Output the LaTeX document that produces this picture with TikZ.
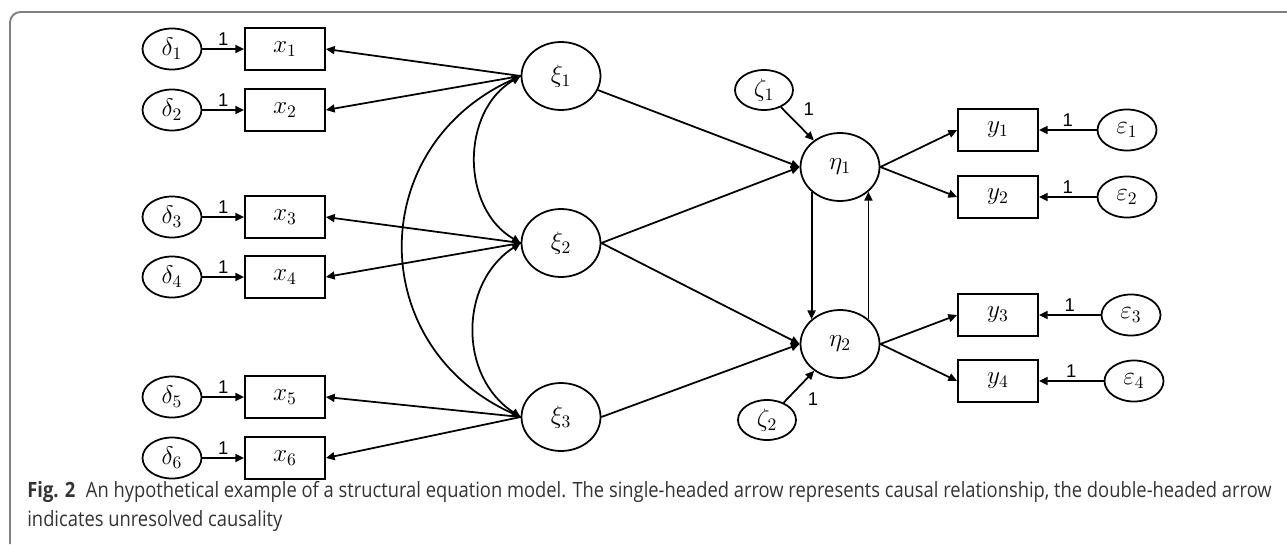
\documentclass[tikz,border=0pt]{standalone}
\usepackage{fontspec}
\usepackage{tikz}
\usetikzlibrary{arrows.meta,positioning,shapes.geometric}
\newfontfamily\onefont{Liberation Sans}
\newfontfamily\capfont[FakeStretch=0.87]{Open Sans}

\begin{document}
\begin{tikzpicture}[
  x=0.02cm, y=-0.02cm,
  obs/.style={draw, line width=1pt, minimum width=1.6cm, minimum height=0.84cm, inner sep=0pt, font=\Large},
  err/.style={draw, ellipse, line width=1pt, minimum width=1.18cm, minimum height=0.82cm, inner sep=0pt, font=\Large},
  lat/.style={draw, ellipse, line width=1pt, minimum width=1.58cm, minimum height=1.36cm, inner sep=0pt, font=\Large},
  arrow/.style={-{Triangle[length=5pt,width=4.5pt]}, line width=1pt},
  cov/.style={{Triangle[length=5pt,width=4.5pt]}-{Triangle[length=5pt,width=4.5pt]}, line width=1pt},
  one/.style={font=\onefont\fontsize{10.5}{12}\selectfont, inner sep=1.5pt}
]
\useasboundingbox (0,0) rectangle (1287,544);
% frame
\draw[gray, line width=1.1pt, rounded corners=6pt] (10,544) |- (1287,12);

% delta errors
\node[err] (d1) at (172,49)  {$\delta_1$};
\node[err] (d2) at (172,110) {$\delta_2$};
\node[err] (d3) at (172,217) {$\delta_3$};
\node[err] (d4) at (172,277) {$\delta_4$};
\node[err] (d5) at (172,397) {$\delta_5$};
\node[err] (d6) at (172,458) {$\delta_6$};
% x indicators
\node[obs] (x1) at (285,49)  {$x_1$};
\node[obs] (x2) at (285,110) {$x_2$};
\node[obs] (x3) at (285,217) {$x_3$};
\node[obs] (x4) at (285,277) {$x_4$};
\node[obs] (x5) at (285,397) {$x_5$};
\node[obs] (x6) at (285,458) {$x_6$};
% exogenous
\node[lat] (xi1) at (561,76)  {$\xi_1$};
\node[lat] (xi2) at (561,243) {$\xi_2$};
\node[lat] (xi3) at (561,417) {$\xi_3$};
% endogenous
\node[lat] (eta1) at (840,167) {$\eta_1$};
\node[lat] (eta2) at (840,344) {$\eta_2$};
\node[err, minimum width=1.16cm, minimum height=0.8cm] (z1) at (764,90)  {$\zeta_1$};
\node[err, minimum width=1.16cm, minimum height=0.8cm] (z2) at (767,420) {$\zeta_2$};
% y indicators
\node[obs] (y1) at (998,130) {$y_1$};
\node[obs] (y2) at (998,197) {$y_2$};
\node[obs] (y3) at (998,315) {$y_3$};
\node[obs] (y4) at (998,381) {$y_4$};
% epsilon errors
\node[err] (e1) at (1127,130) {$\varepsilon_1$};
\node[err] (e2) at (1127,197) {$\varepsilon_2$};
\node[err] (e3) at (1131,315) {$\varepsilon_3$};
\node[err] (e4) at (1134,381) {$\varepsilon_4$};

\draw[arrow] (d1) -- node[above,one]{1} (x1);
\draw[arrow] (d2) -- node[above,one]{1} (x2);
\draw[arrow] (d3) -- node[above,one]{1} (x3);
\draw[arrow] (d4) -- node[above,one]{1} (x4);
\draw[arrow] (d5) -- node[above,one]{1} (x5);
\draw[arrow] (d6) -- node[above,one]{1} (x6);

\draw[arrow] (xi1.west) -- (x1.east);
\draw[arrow] (xi1.west) -- (x2.east);
\draw[arrow] (xi2.west) -- (x3.east);
\draw[arrow] (xi2.west) -- (x4.east);
\draw[arrow] (xi3.west) -- (x5.east);
\draw[arrow] (xi3.west) -- (x6.east);

\draw[cov] (xi1.west) .. controls +(-60,35) and +(-60,-35) .. (xi2.west);
\draw[cov] (xi2.west) .. controls +(-62,40) and +(-62,-40) .. (xi3.west);
\draw[cov] (xi1.west) .. controls +(-156,70) and +(-156,-70) .. (xi3.west);

\draw[arrow] (xi1) -- (eta1.west);
\draw[arrow] (xi2.east) -- (eta1.west);
\draw[arrow] (xi2.east) -- (eta2.west);
\draw[arrow] (xi3.east) -- (eta2.west);

\draw[arrow] (z1) -- node[pos=0.05,right=10pt,one]{1} (eta1);
\draw[arrow] (z2) -- node[pos=0.1,right=10pt,one]{1} (eta2);
\draw[arrow, line width=1.1pt] (eta1.221) -- (eta2.139);
\draw[arrow, line width=1.1pt] (eta2.41) -- (eta1.319);

\draw[arrow] (eta1.east) -- (y1.west);
\draw[arrow] (eta1.east) -- (y2.west);
\draw[arrow] (eta2.east) -- (y3.west);
\draw[arrow] (eta2.east) -- (y4.west);

\draw[arrow] (e1) -- node[above,one]{1} (y1);
\draw[arrow] (e2) -- node[above,one]{1} (y2);
\draw[arrow] (e3) -- node[above,one]{1} (y3);
\draw[arrow] (e4) -- node[above,one]{1} (y4);

% caption
\node[anchor=base west, inner sep=0pt, font=\capfont\fontsize{12}{14}\selectfont, text=black!80] (cap1) at (27,497)
  {\textbf{Fig. 2}\hspace{6pt}An hypothetical example of a structural equation model. The single-headed arrow represents causal relationship, the double-headed arrow};
\node[anchor=base west, inner sep=0pt, font=\capfont\fontsize{12}{14}\selectfont, text=black!80] (cap2) at (27,526)
  {indicates unresolved causality};
\end{tikzpicture}
\end{document}
